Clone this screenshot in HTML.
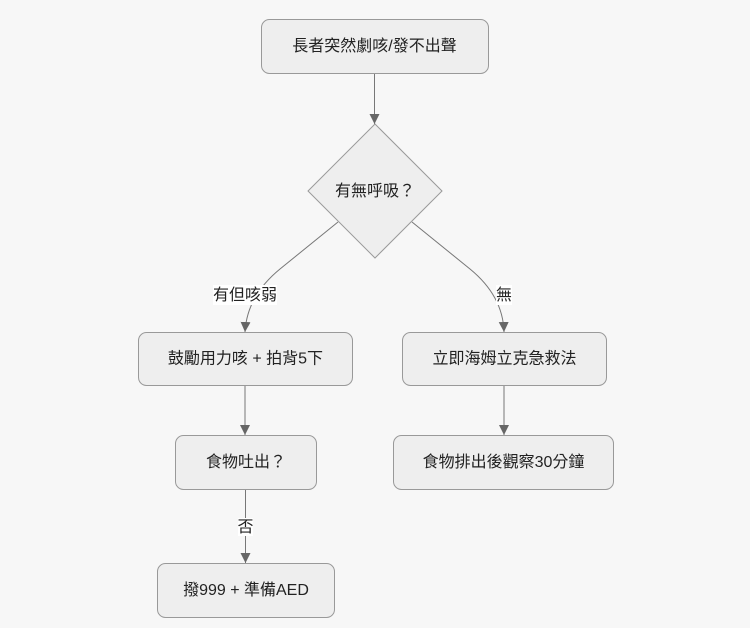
<!DOCTYPE html>
<html>
<head>
<meta charset="utf-8">
<style>
html,body{margin:0;padding:0;background:#f7f7f7;}
svg{display:block;}
text{font-family:"Liberation Sans","Noto Sans CJK TC","Noto Sans CJK SC",sans-serif;font-size:16px;fill:#222;}
</style>
</head>
<body>
<svg width="750" height="628" viewBox="0 0 750 628" xmlns="http://www.w3.org/2000/svg">
<defs>
<marker id="ah" viewBox="0 0 10 10" refX="10" refY="5" markerWidth="10" markerHeight="10" markerUnits="userSpaceOnUse" orient="auto">
<path d="M0,0 L10,5 L0,10 z" fill="#666"/>
</marker>
</defs>
<rect width="750" height="628" fill="#f7f7f7"/>

<!-- edges -->
<g fill="none" stroke="#777" stroke-width="1">
<path d="M374.5,73 L374.5,124" marker-end="url(#ah)"/>
<path d="M338,222 L280,269 Q247,296 245,332" marker-end="url(#ah)"/>
<path d="M412,222 L470,269 Q503,296 504,332" marker-end="url(#ah)"/>
<path d="M245,385 L245,435" marker-end="url(#ah)"/>
<path d="M504,385 L504,435" marker-end="url(#ah)"/>
<path d="M245.5,489 L245.5,563" marker-end="url(#ah)"/>
</g>

<!-- nodes -->
<g fill="#eeeeee" stroke="#999" stroke-width="1">
<rect x="261.5" y="19.5" width="227" height="54" rx="8"/>
<polygon points="375,124 442,191 375,258 308,191"/>
<rect x="138.5" y="332.5" width="214" height="53" rx="8"/>
<rect x="402.5" y="332.5" width="204" height="53" rx="8"/>
<rect x="175.5" y="435.5" width="141" height="54" rx="8"/>
<rect x="393.5" y="435.5" width="220" height="54" rx="8"/>
<rect x="157.5" y="563.5" width="177" height="54" rx="8"/>
</g>

<!-- edge labels -->
<rect x="213" y="285" width="64" height="20" fill="#ffffff"/>
<rect x="496" y="285" width="16" height="20" fill="#ffffff"/>
<rect x="238" y="518" width="15" height="18" fill="#ffffff"/>

<g text-anchor="middle" dominant-baseline="central">
<text x="374.5" y="46.5">長者突然劇咳/發不出聲</text>
<text x="375" y="191.5">有無呼吸？</text>
<text x="245.5" y="359">鼓勵用力咳 + 拍背5下</text>
<text x="504.5" y="359">立即海姆立克急救法</text>
<text x="246" y="462.5">食物吐出？</text>
<text x="503.5" y="462.5">食物排出後觀察30分鐘</text>
<text x="246" y="590.5">撥999 + 準備AED</text>
<text x="245" y="295.5">有但咳弱</text>
<text x="504" y="295.5">無</text>
<text x="245.5" y="527.5">否</text>
</g>
</svg>
</body>
</html>
